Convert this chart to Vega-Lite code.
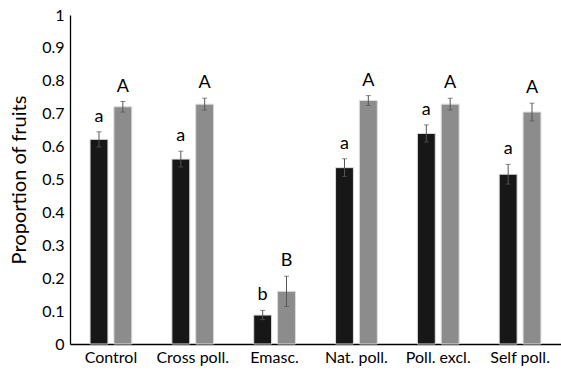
{
  "$schema": "https://vega.github.io/schema/vega-lite/v6.json",
  "width": 491,
  "height": 329,
  "autosize": {"type": "none"},
  "padding": {"left": 70, "top": 15, "right": 0, "bottom": 27},
  "background": "white",
  "config": {
    "view": {"stroke": null},
    "font": "Lato",
    "axis": {"grid": false, "ticks": false, "domainColor": "#000", "domainWidth": 1.3, "labelColor": "#000", "titleColor": "#000", "labelFont": "Lato", "titleFont": "Lato", "titleFontWeight": "normal", "labelFontSize": 16, "labelOverlap": false},
    "axisY": {"labelOverlap": false, "labelFontSize": 16, "labelPadding": 6, "titleFontSize": 20, "titlePadding": 12}
  },
  "data": {
    "values": [
      {"cat": "Control", "grp": "s1", "v": 0.622, "err": 0.023, "letter": "a"},
      {"cat": "Control", "grp": "s2", "v": 0.721, "err": 0.016, "letter": "A"},
      {"cat": "Cross poll.", "grp": "s1", "v": 0.562, "err": 0.024, "letter": "a"},
      {"cat": "Cross poll.", "grp": "s2", "v": 0.729, "err": 0.018, "letter": "A"},
      {"cat": "Emasc.", "grp": "s1", "v": 0.088, "err": 0.014, "letter": "b"},
      {"cat": "Emasc.", "grp": "s2", "v": 0.160, "err": 0.046, "letter": "B"},
      {"cat": "Nat. poll.", "grp": "s1", "v": 0.536, "err": 0.027, "letter": "a"},
      {"cat": "Nat. poll.", "grp": "s2", "v": 0.740, "err": 0.015, "letter": "A"},
      {"cat": "Poll. excl.", "grp": "s1", "v": 0.640, "err": 0.026, "letter": "a"},
      {"cat": "Poll. excl.", "grp": "s2", "v": 0.729, "err": 0.018, "letter": "A"},
      {"cat": "Self poll.", "grp": "s1", "v": 0.516, "err": 0.030, "letter": "a"},
      {"cat": "Self poll.", "grp": "s2", "v": 0.705, "err": 0.027, "letter": "A"}
    ]
  },
  "transform": [
    {"calculate": "datum.v - datum.err", "as": "lo"},
    {"calculate": "datum.v + datum.err", "as": "hi"}
  ],
  "encoding": {
    "x": {"field": "cat", "type": "nominal", "sort": null,
      "scale": {"paddingInner": 0.49, "paddingOuter": 0.245},
      "axis": {"title": null, "labelAngle": 0, "labelFontSize": 16, "labelPadding": 5, "labelOverlap": false}},
    "xOffset": {"field": "grp", "type": "nominal", "scale": {"paddingInner": 0.25, "paddingOuter": 0}}
  },
  "layer": [
    {
      "mark": {"type": "bar", "stroke": "#dcdcdc", "strokeWidth": 1},
      "encoding": {
        "y": {"field": "v", "type": "quantitative", "scale": {"domain": [0, 1]},
          "axis": {"title": "Proportion of fruits", "values": [0, 0.1, 0.2, 0.3, 0.4, 0.5, 0.6, 0.7, 0.8, 0.9, 1], "format": "~g", "labelOverlap": false}},
        "color": {"field": "grp", "type": "nominal", "legend": null,
          "scale": {"domain": ["s1", "s2"], "range": ["#171717", "#8c8c8c"]}}
      }
    },
    {
      "mark": {"type": "rule", "color": "#555", "strokeWidth": 1},
      "encoding": {
        "y": {"field": "lo", "type": "quantitative",
          "axis": {"title": "Proportion of fruits", "values": [0, 0.1, 0.2, 0.3, 0.4, 0.5, 0.6, 0.7, 0.8, 0.9, 1], "format": "~g", "labelOverlap": false}},
        "y2": {"field": "hi"}
      }
    },
    {
      "mark": {"type": "tick", "color": "#555", "size": 5, "thickness": 1, "orient": "horizontal"},
      "encoding": {"y": {"field": "lo", "type": "quantitative",
          "axis": {"title": "Proportion of fruits", "values": [0, 0.1, 0.2, 0.3, 0.4, 0.5, 0.6, 0.7, 0.8, 0.9, 1], "format": "~g", "labelOverlap": false}}}
    },
    {
      "mark": {"type": "tick", "color": "#555", "size": 5, "thickness": 1, "orient": "horizontal"},
      "encoding": {"y": {"field": "hi", "type": "quantitative",
          "axis": {"title": "Proportion of fruits", "values": [0, 0.1, 0.2, 0.3, 0.4, 0.5, 0.6, 0.7, 0.8, 0.9, 1], "format": "~g", "labelOverlap": false}}}
    },
    {
      "mark": {"type": "text", "fontSize": 18, "baseline": "bottom", "dy": -6, "color": "#000"},
      "encoding": {
        "y": {"field": "hi", "type": "quantitative",
          "axis": {"title": "Proportion of fruits", "values": [0, 0.1, 0.2, 0.3, 0.4, 0.5, 0.6, 0.7, 0.8, 0.9, 1], "format": "~g", "labelOverlap": false}},
        "text": {"field": "letter"}
      }
    }
  ]
}
